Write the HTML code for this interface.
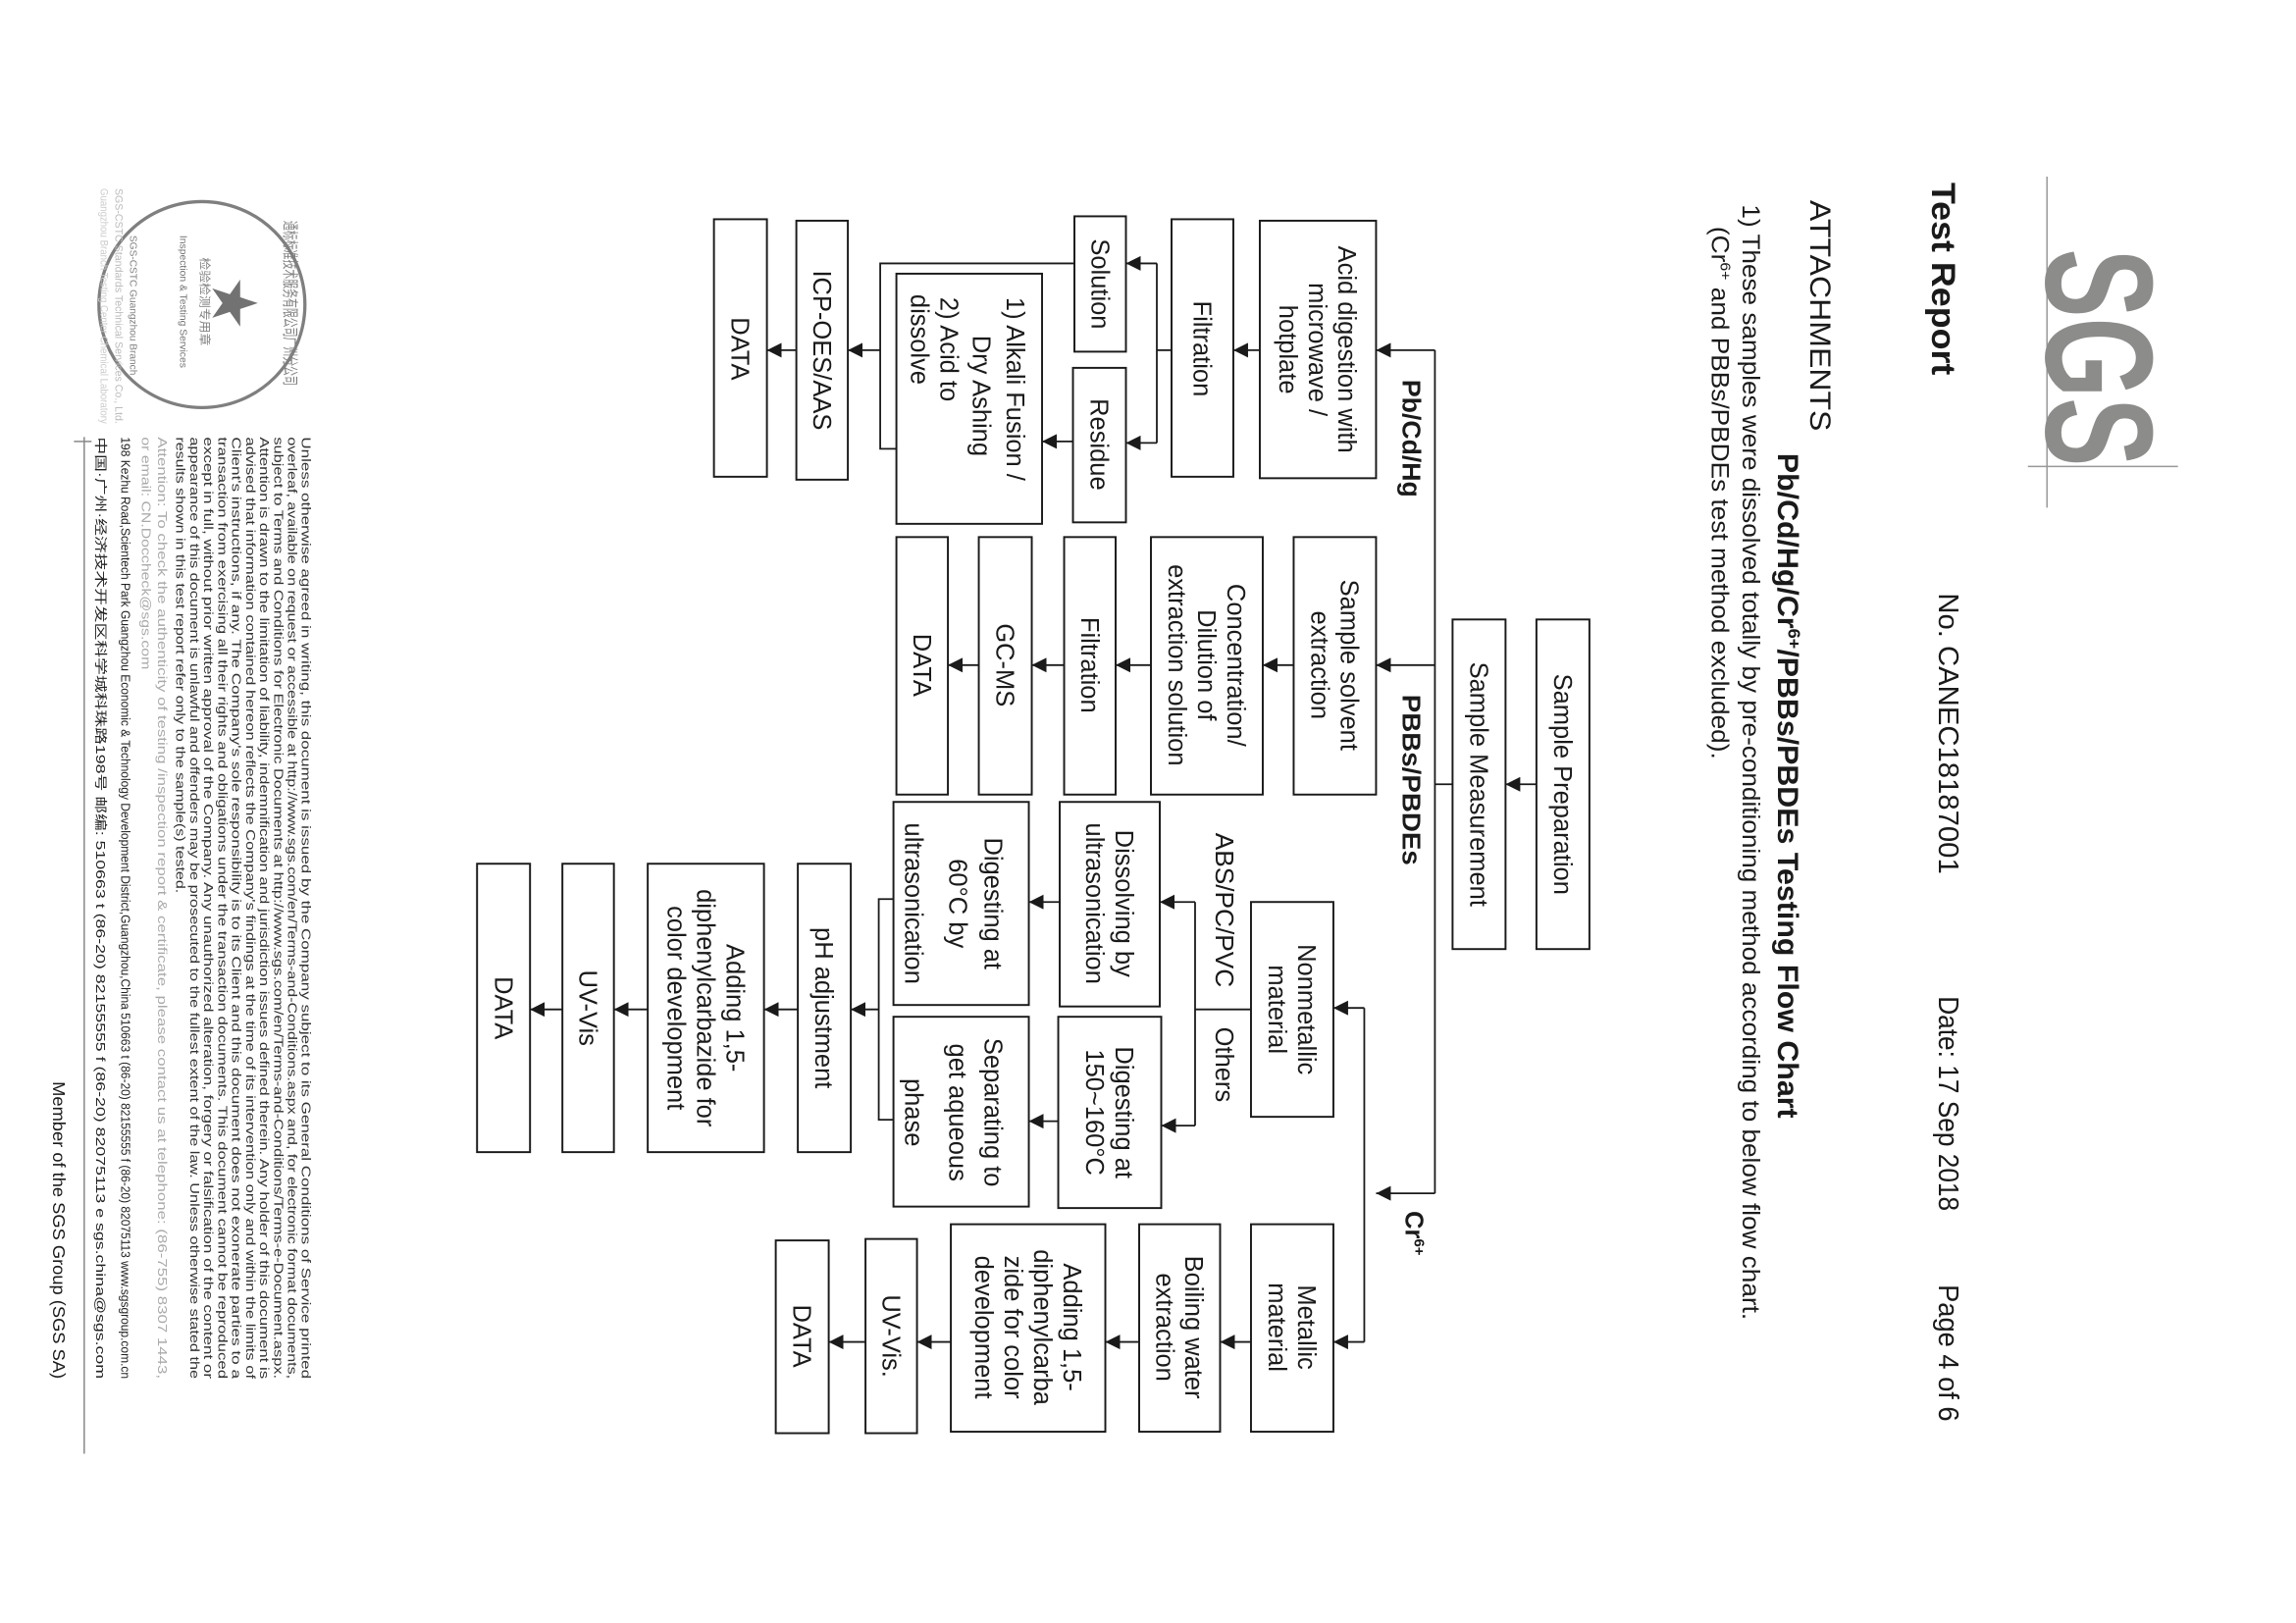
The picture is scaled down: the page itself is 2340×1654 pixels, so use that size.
<!DOCTYPE html>
<html><head><meta charset="utf-8"><style>
html,body{margin:0;padding:0;background:#fff;}
svg{display:block;}
text{font-family:"Liberation Sans","Noto Sans CJK SC",sans-serif;fill:#1a1a1a;}
.bx{fill:none;stroke:#1a1a1a;stroke-width:1.3;}
.ln{fill:none;stroke:#1a1a1a;stroke-width:1.2;}
.t{font-size:17px;}
.ft{font-size:8.6px;fill:#333;}
</style></head><body>
<svg width="2340" height="1654" viewBox="0 0 1560 1103" xmlns="http://www.w3.org/2000/svg">
<defs>
<marker id="a" viewBox="0 0 10 10" refX="10" refY="5" markerWidth="10" markerHeight="10" markerUnits="userSpaceOnUse" orient="auto"><path d="M0,0L10,5L0,10z" fill="#1a1a1a"/></marker>
</defs>

<!-- SGS logo -->
<line x1="1391" y1="120" x2="1391" y2="345" stroke="#999" stroke-width="1"/>
<line x1="1378" y1="317" x2="1480" y2="317" stroke="#999" stroke-width="1"/>
<text transform="translate(1428,169) rotate(90)" dy="0.36em" font-size="104" font-weight="bold" textLength="148" lengthAdjust="spacingAndGlyphs" style="fill:#8c8c8a">SGS</text>

<!-- header -->
<text transform="translate(1321,124) rotate(90)" dy="0.35em" font-size="23" font-weight="bold" textLength="131" lengthAdjust="spacingAndGlyphs">Test Report</text>
<text transform="translate(1324,403) rotate(90)" dy="0.35em" font-size="19" textLength="191" lengthAdjust="spacingAndGlyphs">No. CANEC18187001</text>
<text transform="translate(1324,677) rotate(90)" dy="0.35em" font-size="19" textLength="146" lengthAdjust="spacingAndGlyphs">Date: 17 Sep 2018</text>
<text transform="translate(1324,873) rotate(90)" dy="0.35em" font-size="19" textLength="93" lengthAdjust="spacingAndGlyphs">Page 4 of 6</text>
<text transform="translate(1237,136) rotate(90)" dy="0.35em" font-size="20" textLength="157" lengthAdjust="spacingAndGlyphs">ATTACHMENTS</text>
<text transform="translate(1215,308) rotate(90)" dy="0.35em" font-size="20" font-weight="bold" textLength="452" lengthAdjust="spacingAndGlyphs">Pb/Cd/Hg/Cr<tspan font-size="12" dy="-7">6+</tspan><tspan dy="7">/PBBs/PBDEs Testing Flow Chart</tspan></text>
<text transform="translate(1190,139) rotate(90)" dy="0.35em" font-size="16.5" textLength="758" lengthAdjust="spacingAndGlyphs">1) These samples were dissolved totally by pre-conditioning method according to below flow chart.</text>
<text transform="translate(1169,154) rotate(90)" dy="0.35em" font-size="16.5" textLength="362" lengthAdjust="spacingAndGlyphs">(Cr<tspan font-size="10" dy="-6">6+</tspan><tspan dy="6"> and PBBs/PBDEs test method excluded).</tspan></text>

<!-- top boxes -->
<rect class="bx" x="1044" y="421" width="36" height="224"/>
<text class="t" transform="translate(1062,533) rotate(90)" dy="0.35em" text-anchor="middle">Sample Preparation</text>
<rect class="bx" x="987" y="421" width="36" height="224"/>
<text class="t" transform="translate(1005,533) rotate(90)" dy="0.35em" text-anchor="middle">Sample Measurement</text>
<line class="ln" x1="1044" y1="533" x2="1023" y2="533" marker-end="url(#a)"/>
<line class="ln" x1="987" y1="533" x2="975" y2="533"/>

<!-- main trunk -->
<line class="ln" x1="975" y1="238" x2="975" y2="811"/>
<line class="ln" x1="975" y1="238" x2="935" y2="238" marker-end="url(#a)"/>
<line class="ln" x1="975" y1="452" x2="935" y2="452" marker-end="url(#a)"/>
<line class="ln" x1="975" y1="811" x2="935" y2="811" marker-end="url(#a)"/>
<text transform="translate(959,258) rotate(90)" dy="0.35em" font-size="17" font-weight="bold" textLength="80" lengthAdjust="spacingAndGlyphs">Pb/Cd/Hg</text>
<text transform="translate(959,472) rotate(90)" dy="0.35em" font-size="17" font-weight="bold" textLength="116" lengthAdjust="spacingAndGlyphs">PBBs/PBDEs</text>
<text transform="translate(961,823) rotate(90)" dy="0.35em" font-size="17" font-weight="bold">Cr<tspan font-size="10" dy="-6">6+</tspan></text>

<!-- Pb/Cd/Hg column -->
<rect class="bx" x="856" y="150" width="79" height="175"/>
<text class="t" transform="translate(895.5,237.5) rotate(90)" text-anchor="middle"><tspan x="0" y="-14">Acid digestion with</tspan><tspan x="0" y="6">microwave /</tspan><tspan x="0" y="26">hotplate</tspan></text>
<rect class="bx" x="796" y="149" width="42" height="175"/>
<text class="t" transform="translate(817,237) rotate(90)" dy="0.35em" text-anchor="middle">Filtration</text>
<line class="ln" x1="856" y1="238" x2="838" y2="238" marker-end="url(#a)"/>
<line class="ln" x1="796" y1="238" x2="786" y2="238"/>
<line class="ln" x1="786" y1="179" x2="786" y2="301"/>
<line class="ln" x1="786" y1="179" x2="765" y2="179" marker-end="url(#a)"/>
<line class="ln" x1="786" y1="301" x2="765" y2="301" marker-end="url(#a)"/>
<rect class="bx" x="730" y="147" width="35" height="92"/>
<text class="t" transform="translate(747.5,193) rotate(90)" dy="0.35em" text-anchor="middle">Solution</text>
<rect class="bx" x="729" y="250" width="36" height="105"/>
<text class="t" transform="translate(747,302) rotate(90)" dy="0.35em" text-anchor="middle">Residue</text>
<line class="ln" x1="729" y1="300" x2="708" y2="300" marker-end="url(#a)"/>
<rect class="bx" x="609" y="186" width="99" height="170"/>
<text class="t" transform="translate(690,202) rotate(90)" dy="0.35em">1) Alkali Fusion /</text>
<text class="t" transform="translate(667,269) rotate(90)" dy="0.35em" text-anchor="middle">Dry Ashing</text>
<text class="t" transform="translate(645,202) rotate(90)" dy="0.35em">2) Acid to</text>
<text class="t" transform="translate(625,200) rotate(90)" dy="0.35em">dissolve</text>
<polyline class="ln" points="730,179 598,179 598,305 609,305"/>
<line class="ln" x1="598" y1="238" x2="576" y2="238" marker-end="url(#a)"/>
<rect class="bx" x="541" y="150" width="35" height="176"/>
<text class="t" transform="translate(558.5,238) rotate(90)" dy="0.35em" text-anchor="middle">ICP-OES/AAS</text>
<line class="ln" x1="541" y1="238" x2="521" y2="238" marker-end="url(#a)"/>
<rect class="bx" x="485" y="149" width="36" height="175"/>
<text class="t" transform="translate(503,237) rotate(90)" dy="0.35em" text-anchor="middle">DATA</text>

<!-- PBBs column -->
<rect class="bx" x="879" y="365" width="56" height="175"/>
<text class="t" transform="translate(907,452) rotate(90)" text-anchor="middle"><tspan x="0" y="-4">Sample solvent</tspan><tspan x="0" y="16">extraction</tspan></text>
<line class="ln" x1="879" y1="452" x2="858" y2="452" marker-end="url(#a)"/>
<rect class="bx" x="782" y="365" width="76" height="175"/>
<text class="t" transform="translate(820,452) rotate(90)" text-anchor="middle"><tspan x="0" y="-14">Concentration/</tspan><tspan x="0" y="6">Dilution of</tspan><tspan x="0" y="26">extraction solution</tspan></text>
<line class="ln" x1="782" y1="452" x2="758" y2="452" marker-end="url(#a)"/>
<rect class="bx" x="723" y="365" width="35" height="175"/>
<text class="t" transform="translate(740.5,452) rotate(90)" dy="0.35em" text-anchor="middle">Filtration</text>
<line class="ln" x1="723" y1="452" x2="701" y2="452" marker-end="url(#a)"/>
<rect class="bx" x="665" y="365" width="36" height="175"/>
<text class="t" transform="translate(683,452) rotate(90)" dy="0.35em" text-anchor="middle">GC-MS</text>
<line class="ln" x1="665" y1="452" x2="644" y2="452" marker-end="url(#a)"/>
<rect class="bx" x="609" y="365" width="35" height="175"/>
<text class="t" transform="translate(626.5,452) rotate(90)" dy="0.35em" text-anchor="middle">DATA</text>

<!-- Cr6+ column -->
<line class="ln" x1="927" y1="685" x2="927" y2="912"/>
<line class="ln" x1="927" y1="685" x2="906" y2="685" marker-end="url(#a)"/>
<line class="ln" x1="927" y1="912" x2="906" y2="912" marker-end="url(#a)"/>
<rect class="bx" x="850" y="613" width="56" height="146"/>
<text class="t" transform="translate(878,686) rotate(90)" text-anchor="middle"><tspan x="0" y="-4">Nonmetallic</tspan><tspan x="0" y="16">material</tspan></text>
<line class="ln" x1="850" y1="686" x2="812" y2="686"/>
<line class="ln" x1="812" y1="613" x2="812" y2="765"/>
<line class="ln" x1="812" y1="613" x2="788" y2="613" marker-end="url(#a)"/>
<line class="ln" x1="812" y1="765" x2="789" y2="765" marker-end="url(#a)"/>
<text class="t" transform="translate(832,566) rotate(90)" dy="0.35em" textLength="105" lengthAdjust="spacingAndGlyphs">ABS/PC/PVC</text>
<text class="t" transform="translate(832,698) rotate(90)" dy="0.35em">Others</text>
<rect class="bx" x="720" y="545" width="68" height="139"/>
<text class="t" transform="translate(754,614) rotate(90)" text-anchor="middle"><tspan x="0" y="-4">Dissolving by</tspan><tspan x="0" y="16">ultrasonication</tspan></text>
<rect class="bx" x="719" y="691" width="70" height="130"/>
<text class="t" transform="translate(754,756) rotate(90)" text-anchor="middle"><tspan x="0" y="-4">Digesting at</tspan><tspan x="0" y="16">150~160°C</tspan></text>
<line class="ln" x1="720" y1="613" x2="699" y2="613" marker-end="url(#a)"/>
<line class="ln" x1="719" y1="762" x2="699" y2="762" marker-end="url(#a)"/>
<rect class="bx" x="607" y="545" width="92" height="138"/>
<text class="t" transform="translate(675,614) rotate(90)" dy="0.35em" text-anchor="middle">Digesting at</text>
<text class="t" transform="translate(651,614) rotate(90)" dy="0.35em" text-anchor="middle">60°C by</text>
<text class="t" transform="translate(621,614) rotate(90)" dy="0.35em" text-anchor="middle">ultrasonication</text>
<rect class="bx" x="607" y="691" width="92" height="129"/>
<text class="t" transform="translate(675,756) rotate(90)" dy="0.35em" text-anchor="middle">Separating to</text>
<text class="t" transform="translate(651,756) rotate(90)" dy="0.35em" text-anchor="middle">get aqueous</text>
<text class="t" transform="translate(621,756) rotate(90)" dy="0.35em" text-anchor="middle">phase</text>
<polyline class="ln" points="607,611 597,611 597,761 607,761"/>
<line class="ln" x1="597" y1="686" x2="578" y2="686" marker-end="url(#a)"/>
<rect class="bx" x="542" y="587" width="36" height="196"/>
<text class="t" transform="translate(560,685) rotate(90)" dy="0.35em" text-anchor="middle">pH adjustment</text>
<line class="ln" x1="542" y1="686" x2="519" y2="686" marker-end="url(#a)"/>
<rect class="bx" x="440" y="587" width="79" height="196"/>
<text class="t" transform="translate(479.5,685) rotate(90)" text-anchor="middle"><tspan x="0" y="-14">Adding 1,5-</tspan><tspan x="0" y="6">diphenylcarbazide for</tspan><tspan x="0" y="26">color development</tspan></text>
<line class="ln" x1="440" y1="686" x2="417" y2="686" marker-end="url(#a)"/>
<rect class="bx" x="382" y="587" width="35" height="196"/>
<text class="t" transform="translate(399.5,685) rotate(90)" dy="0.35em" text-anchor="middle">UV-Vis</text>
<line class="ln" x1="382" y1="686" x2="360" y2="686" marker-end="url(#a)"/>
<rect class="bx" x="324" y="587" width="36" height="196"/>
<text class="t" transform="translate(342,685) rotate(90)" dy="0.35em" text-anchor="middle">DATA</text>

<rect class="bx" x="850" y="832" width="56" height="141"/>
<text class="t" transform="translate(878,902) rotate(90)" text-anchor="middle"><tspan x="0" y="-4">Metallic</tspan><tspan x="0" y="16">material</tspan></text>
<line class="ln" x1="850" y1="912" x2="829" y2="912" marker-end="url(#a)"/>
<rect class="bx" x="774" y="832" width="55" height="141"/>
<text class="t" transform="translate(801.5,902) rotate(90)" text-anchor="middle"><tspan x="0" y="-4">Boiling water</tspan><tspan x="0" y="16">extraction</tspan></text>
<line class="ln" x1="774" y1="912" x2="751" y2="912" marker-end="url(#a)"/>
<rect class="bx" x="646" y="832" width="105" height="141"/>
<text class="t" transform="translate(698.5,902) rotate(90)" text-anchor="middle"><tspan x="0" y="-24">Adding 1,5-</tspan><tspan x="0" y="-4">diphenylcarba</tspan><tspan x="0" y="16">zide for color</tspan><tspan x="0" y="36">development</tspan></text>
<line class="ln" x1="646" y1="912" x2="623" y2="912" marker-end="url(#a)"/>
<rect class="bx" x="588" y="842" width="35" height="132"/>
<text class="t" transform="translate(605.5,908) rotate(90)" dy="0.35em" text-anchor="middle">UV-Vis.</text>
<line class="ln" x1="588" y1="912" x2="563" y2="912" marker-end="url(#a)"/>
<rect class="bx" x="527" y="843" width="36" height="131"/>
<text class="t" transform="translate(545,908) rotate(90)" dy="0.35em" text-anchor="middle">DATA</text>

<!-- stamp -->
<g opacity="0.75">
<circle cx="137" cy="207" r="70" fill="none" stroke="#555" stroke-width="2.2"/>
<polygon transform="translate(158,206) rotate(90)" points="0,-17 4,-5 16,-5 6,2 10,14 0,7 -10,14 -6,2 -16,-5 -4,-5" fill="#444"/>
<text transform="translate(122,160) rotate(90)" font-size="7" textLength="90" lengthAdjust="spacingAndGlyphs" style="fill:#444">Inspection &amp; Testing Services</text>
<text transform="translate(136,175) rotate(90)" font-size="8" textLength="60" lengthAdjust="spacingAndGlyphs" style="fill:#555">检验检测专用章</text>
<text transform="translate(193,150) rotate(90)" font-size="11" textLength="112" lengthAdjust="spacingAndGlyphs" style="fill:#555">通标标准技术服务有限公司广州分公司</text>
<text transform="translate(88,160) rotate(90)" font-size="7" textLength="95" lengthAdjust="spacingAndGlyphs" style="fill:#555">SGS-CSTC Guangzhou Branch</text>
</g>
<text transform="translate(78,128) rotate(90)" font-size="7.5" style="fill:#bbb" textLength="160" lengthAdjust="spacingAndGlyphs">SGS-CSTC Standards Technical Services Co., Ltd.</text>
<text transform="translate(68,128) rotate(90)" font-size="7.5" style="fill:#ccc" textLength="160" lengthAdjust="spacingAndGlyphs">Guangzhou Branch Testing Center Chemical Laboratory</text>

<!-- footer -->
<g class="ft">
<text class="ft" transform="translate(208,297) rotate(90)" dy="0.35em" textLength="640" lengthAdjust="spacingAndGlyphs">Unless otherwise agreed in writing, this document is issued by the Company subject to its General Conditions of Service printed</text>
<text class="ft" transform="translate(198.5,297) rotate(90)" dy="0.35em" textLength="640" lengthAdjust="spacingAndGlyphs">overleaf, available on request or accessible at http://www.sgs.com/en/Terms-and-Conditions.aspx and, for electronic format documents,</text>
<text class="ft" transform="translate(189,297) rotate(90)" dy="0.35em" textLength="640" lengthAdjust="spacingAndGlyphs">subject to Terms and Conditions for Electronic Documents at http://www.sgs.com/en/Terms-and-Conditions/Terms-e-Document.aspx.</text>
<text class="ft" transform="translate(179.5,297) rotate(90)" dy="0.35em" textLength="640" lengthAdjust="spacingAndGlyphs">Attention is drawn to the limitation of liability, indemnification and jurisdiction issues defined therein. Any holder of this document is</text>
<text class="ft" transform="translate(170,297) rotate(90)" dy="0.35em" textLength="640" lengthAdjust="spacingAndGlyphs">advised that information contained hereon reflects the Company's findings at the time of its intervention only and within the limits of</text>
<text class="ft" transform="translate(160.5,297) rotate(90)" dy="0.35em" textLength="640" lengthAdjust="spacingAndGlyphs">Client's instructions, if any. The Company's sole responsibility is to its Client and this document does not exonerate parties to a</text>
<text class="ft" transform="translate(151,297) rotate(90)" dy="0.35em" textLength="640" lengthAdjust="spacingAndGlyphs">transaction from exercising all their rights and obligations under the transaction documents. This document cannot be reproduced</text>
<text class="ft" transform="translate(141.5,297) rotate(90)" dy="0.35em" textLength="640" lengthAdjust="spacingAndGlyphs">except in full, without prior written approval of the Company. Any unauthorized alteration, forgery or falsification of the content or</text>
<text class="ft" transform="translate(132,297) rotate(90)" dy="0.35em" textLength="640" lengthAdjust="spacingAndGlyphs">appearance of this document is unlawful and offenders may be prosecuted to the fullest extent of the law. Unless otherwise stated the</text>
<text class="ft" transform="translate(122.5,297) rotate(90)" dy="0.35em" textLength="310" lengthAdjust="spacingAndGlyphs">results shown in this test report refer only to the sample(s) tested.</text>
<text class="ft" transform="translate(110,297) rotate(90)" dy="0.35em" textLength="640" lengthAdjust="spacingAndGlyphs" style="fill:#aaa">Attention: To check the authenticity of testing /inspection report &amp; certificate, please contact us at telephone: (86-755) 8307 1443,</text>
<text class="ft" transform="translate(99,297) rotate(90)" dy="0.35em" textLength="158" lengthAdjust="spacingAndGlyphs" style="fill:#aaa">or email: CN.Doccheck@sgs.com</text>
<text class="ft" transform="translate(85,297) rotate(90)" dy="0.35em" textLength="640" lengthAdjust="spacingAndGlyphs" style="fill:#222">198 Kezhu Road,Scientech Park Guangzhou Economic &amp; Technology Development District,Guangzhou,China 510663   t (86-20) 82155555   f (86-20) 82075113   www.sgsgroup.com.cn</text>
<text class="ft" transform="translate(68,297) rotate(90)" dy="0.35em" textLength="640" lengthAdjust="spacingAndGlyphs" style="fill:#222">中国·广州·经济技术开发区科学城科珠路198号      邮编: 510663   t (86-20) 82155555   f (86-20) 82075113   e sgs.china@sgs.com</text>
</g>
<line x1="57" y1="297" x2="57" y2="988" stroke="#888" stroke-width="1"/>
<line x1="50" y1="300" x2="62" y2="300" stroke="#888" stroke-width="1"/>
<text transform="translate(40,735) rotate(90)" dy="0.35em" font-size="12" textLength="202" lengthAdjust="spacingAndGlyphs">Member of the SGS Group (SGS SA)</text>
</svg>
</body></html>
